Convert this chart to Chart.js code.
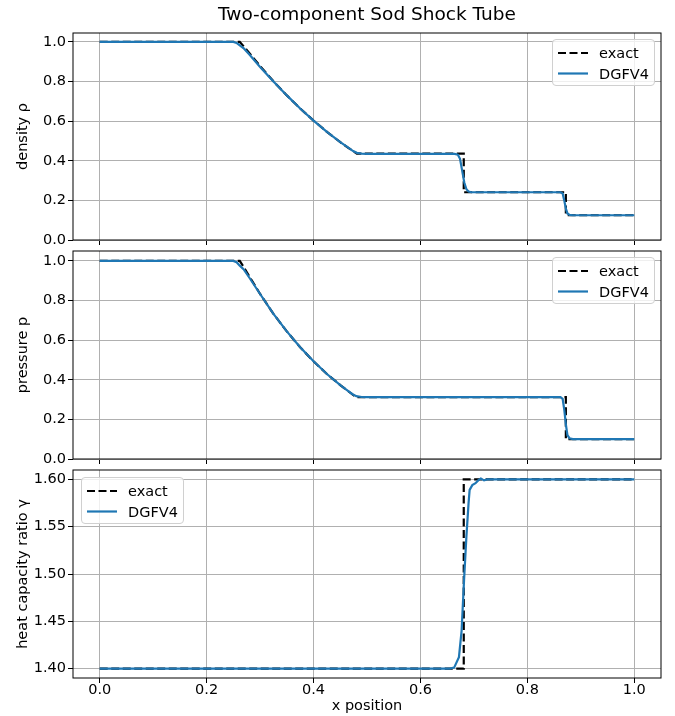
<!DOCTYPE html>
<html>
<head>
<meta charset="utf-8">
<script src="https://cdn.jsdelivr.net/npm/chart.js@4.4.1/dist/chart.umd.min.js"></script>
<style>
  body { margin:0; background:#fff; width:675px; height:716px; overflow:hidden; position:relative; font-family:'DejaVu Sans', sans-serif; }
  canvas { position:absolute; left:0; }
  .legend { position:absolute; background:rgba(255,255,255,0.8); border:1px solid #d0d0d0; border-radius:4px; box-sizing:border-box; font-size:14.5px; color:#000; }
  .legend svg { position:absolute; left:0; top:0; }
  .legend span { position:absolute; left:46px; height:20px; line-height:20px; white-space:nowrap; }
</style>
</head>
<body>
<canvas id="c1" width="675" height="254" style="top:0px"></canvas>
<canvas id="c2" width="675" height="236" style="top:237px"></canvas>
<canvas id="c3" width="675" height="260" style="top:456px"></canvas>

<div class="legend" style="left:552px;top:39px;width:103px;height:47px">
  <svg width="103" height="47"><line x1="5" x2="35" y1="13" y2="13" stroke="#000" stroke-width="2.2" stroke-dasharray="8,3.5"/><line x1="5" x2="35" y1="33.5" y2="33.5" stroke="#1f77b4" stroke-width="2.2"/></svg>
  <span style="top:3px">exact</span><span style="top:23.5px">DGFV4</span>
</div>
<div class="legend" style="left:552px;top:257px;width:103px;height:47px">
  <svg width="103" height="47"><line x1="5" x2="35" y1="13" y2="13" stroke="#000" stroke-width="2.2" stroke-dasharray="8,3.5"/><line x1="5" x2="35" y1="33.5" y2="33.5" stroke="#1f77b4" stroke-width="2.2"/></svg>
  <span style="top:3px">exact</span><span style="top:23.5px">DGFV4</span>
</div>
<div class="legend" style="left:81px;top:477px;width:103px;height:47px">
  <svg width="103" height="47"><line x1="5" x2="35" y1="13" y2="13" stroke="#000" stroke-width="2.2" stroke-dasharray="8,3.5"/><line x1="5" x2="35" y1="33.5" y2="33.5" stroke="#1f77b4" stroke-width="2.2"/></svg>
  <span style="top:3px">exact</span><span style="top:23.5px">DGFV4</span>
</div>

<script>
// ---- tick labels ----
const xTicks = [0.0, 0.2, 0.4, 0.6, 0.8, 1.0];
const densityTicks = [0.0, 0.2, 0.4, 0.6, 0.8, 1.0];
const pressureTicks = [0.0, 0.2, 0.4, 0.6, 0.8, 1.0];
const gammaTicks = [1.40, 1.45, 1.50, 1.55, 1.60];

// ---- exact solution ----
const exactDensityX = [0, 0.262, 0.275, 0.30, 0.325, 0.35, 0.375, 0.40, 0.425, 0.45, 0.465, 0.481, 0.681, 0.681, 0.872, 0.872, 1.0];
const exactDensity  = [1.0, 1.0, 0.960, 0.878, 0.801, 0.730, 0.664, 0.603, 0.546, 0.494, 0.465, 0.436, 0.436, 0.241, 0.241, 0.125, 0.125];

const exactPressureX = [0, 0.262, 0.275, 0.30, 0.325, 0.35, 0.375, 0.40, 0.425, 0.45, 0.465, 0.480, 0.872, 0.872, 1.0];
const exactPressure  = [1.0, 1.0, 0.944, 0.833, 0.733, 0.644, 0.564, 0.493, 0.429, 0.373, 0.342, 0.312, 0.312, 0.100, 0.100];

const exactGammaX = [0, 0.681, 0.681, 1.0];
const exactGamma  = [1.40, 1.40, 1.60, 1.60];

// ---- DGFV4 numerical solution ----
const dgDensityX = [0, 0.250, 0.256, 0.262, 0.270, 0.280, 0.30, 0.325, 0.35, 0.375, 0.40, 0.425, 0.45, 0.465, 0.474, 0.481, 0.490, 0.50, 0.664, 0.670, 0.674, 0.678, 0.682, 0.686, 0.690, 0.695, 0.862, 0.866, 0.869, 0.872, 0.875, 0.879, 0.885, 1.0];
const dgDensity  = [1.0, 1.0, 0.995, 0.982, 0.966, 0.936, 0.873, 0.800, 0.730, 0.664, 0.603, 0.546, 0.494, 0.466, 0.449, 0.440, 0.436, 0.435, 0.435, 0.431, 0.410, 0.350, 0.290, 0.256, 0.245, 0.241, 0.241, 0.235, 0.200, 0.158, 0.134, 0.127, 0.125, 0.125];

const dgPressureX = [0, 0.250, 0.256, 0.262, 0.270, 0.280, 0.30, 0.325, 0.35, 0.375, 0.40, 0.425, 0.45, 0.465, 0.473, 0.480, 0.490, 0.50, 0.862, 0.866, 0.869, 0.872, 0.875, 0.879, 0.885, 1.0];
const dgPressure  = [1.0, 1.0, 0.993, 0.976, 0.955, 0.915, 0.833, 0.733, 0.644, 0.564, 0.493, 0.429, 0.373, 0.343, 0.327, 0.317, 0.313, 0.312, 0.312, 0.304, 0.250, 0.175, 0.120, 0.104, 0.100, 0.100];

const dgGammaX = [0, 0.655, 0.663, 0.672, 0.677, 0.6816, 0.686, 0.690, 0.692, 0.697, 0.703, 0.708, 0.713, 0.719, 0.725, 1.0];
const dgGamma  = [1.40, 1.40, 1.401, 1.412, 1.440, 1.494, 1.540, 1.575, 1.589, 1.594, 1.596, 1.599, 1.601, 1.599, 1.600, 1.600];

const FONT = 'DejaVu Sans';
Chart.defaults.font.family = FONT;
Chart.defaults.color = '#000';

const pts = (xs, ys) => xs.map((x, i) => ({x: x, y: ys[i]}));

const frame = {
  id: 'frame',
  afterLayout(chart) {
    if (chart.titleBlock) {
      chart.titleBlock.left = chart.chartArea.left;
      chart.titleBlock.right = chart.chartArea.right;
    }
  },
  afterDraw(chart) {
    const {ctx, chartArea: a} = chart;
    ctx.save();
    ctx.strokeStyle = '#000';
    ctx.lineWidth = 1;
    ctx.strokeRect(a.left, a.top, a.right - a.left, a.bottom - a.top);
    ctx.restore();
  }
};

function makeChart(id, cfg) {
  const xScale = {
    type: 'linear', min: -0.05, max: 1.05,
    afterBuildTicks: ax => { ax.ticks = xTicks.map(v => ({value: v})); },
    afterFit: ax => { ax.height = cfg.xHeight; },
    ticks: { display: cfg.xLabels, callback: v => v.toFixed(1), font: {size: 14.5}, color: '#000', padding: -1.5, maxRotation: 0, autoSkip: false },
    grid: { color: '#b0b0b0', lineWidth: 1, tickLength: 5, tickColor: '#000', tickWidth: 1 },
    border: { display: false },
    title: { display: cfg.xLabels, text: 'x position', font: {size: 14.5}, color: '#000', padding: {top: 0, bottom: 1} }
  };
  const yScale = {
    type: 'linear', min: cfg.ymin, max: cfg.ymax,
    afterBuildTicks: ax => { ax.ticks = cfg.yTicks.map(v => ({value: v})); },
    afterFit: ax => { ax.width = 73; },
    ticks: { callback: v => v.toFixed(cfg.dec), font: {size: 14.5}, color: '#000', padding: 2 },
    grid: { color: '#b0b0b0', lineWidth: 1, tickLength: 5, tickColor: '#000', tickWidth: 1 },
    border: { display: false },
    title: { display: true, text: cfg.ylabel, font: {size: 14.5}, color: '#000', padding: {top: 15, bottom: 0} }
  };
  return new Chart(document.getElementById(id), {
    type: 'line',
    data: {
      datasets: [
        { label: 'exact', data: pts(cfg.ex, cfg.ey), borderColor: '#000', borderWidth: 2.2, borderDash: [8, 3.5], pointRadius: 0, tension: 0, fill: false, order: 2 },
        { label: 'DGFV4', data: pts(cfg.nx, cfg.ny), borderColor: '#1f77b4', borderWidth: 2.2, pointRadius: 0, tension: 0, fill: false, order: 1 }
      ]
    },
    options: {
      responsive: false, animation: false, devicePixelRatio: 1,
      layout: { padding: { left: 0, right: 14, top: cfg.padTop, bottom: 0 } },
      plugins: {
        legend: { display: false },
        tooltip: { enabled: false },
        title: cfg.title ? { display: true, text: cfg.title, font: {size: 18.5, weight: 'normal'}, color: '#000', padding: {top: 4, bottom: 6.8} } : { display: false }
      },
      scales: { x: xScale, y: yScale }
    },
    plugins: [frame]
  });
}

makeChart('c1', { title: 'Two-component Sod Shock Tube', padTop: 0, xHeight: 14, xLabels: false,
  ymin: 0, ymax: 1.045, yTicks: densityTicks, dec: 1, ylabel: 'density ρ',
  ex: exactDensityX, ey: exactDensity, nx: dgDensityX, ny: dgDensity });
makeChart('c2', { title: null, padTop: 14, xHeight: 14, xLabels: false,
  ymin: 0, ymax: 1.05, yTicks: pressureTicks, dec: 1, ylabel: 'pressure p',
  ex: exactPressureX, ey: exactPressure, nx: dgPressureX, ny: dgPressure });
makeChart('c3', { title: null, padTop: 14, xHeight: 38, xLabels: true,
  ymin: 1.39, ymax: 1.61, yTicks: gammaTicks, dec: 2, ylabel: 'heat capacity ratio γ',
  ex: exactGammaX, ey: exactGamma, nx: dgGammaX, ny: dgGamma });
</script>
</body>
</html>
